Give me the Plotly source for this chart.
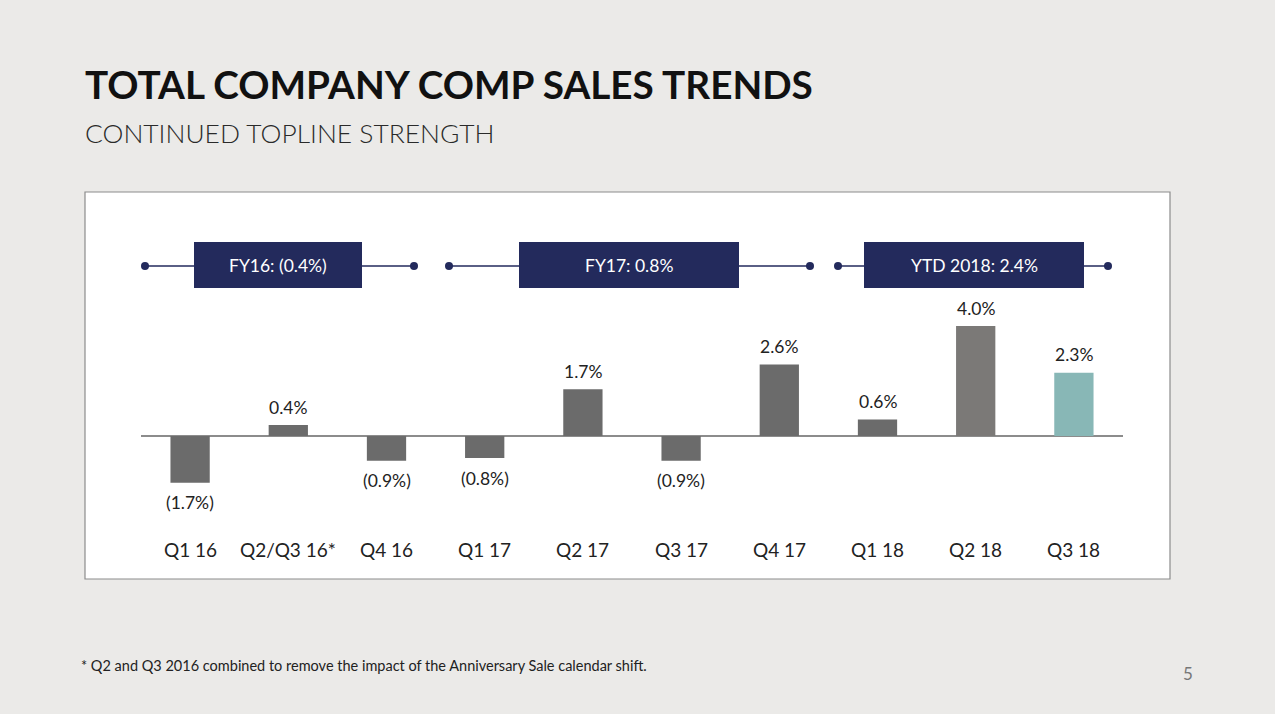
import plotly.graph_objects as go

categories = ["Q1 16", "Q2/Q3 16*", "Q4 16", "Q1 17", "Q2 17", "Q3 17", "Q4 17", "Q1 18", "Q2 18", "Q3 18"]
values = [-1.7, 0.4, -0.9, -0.8, 1.7, -0.9, 2.6, 0.6, 4.0, 2.3]
labels = ["(1.7%)", "0.4%", "(0.9%)", "(0.8%)", "1.7%", "(0.9%)", "2.6%", "0.6%", "4.0%", "2.3%"]
bar_colors = ["#6b6b6b"] * 8 + ["#7b7977", "#88b7b6"]
period_labels = ["FY16: (0.4%)", "FY17: 0.8%", "YTD 2018: 2.4%"]

W, H = 1275, 714
def px(x): return x / W
def py(y): return 1 - y / H

FONT = "Lato"
NAVY = "#232a5c"

fig = go.Figure()
fig.add_trace(go.Bar(x=categories, y=values, marker=dict(color=bar_colors, line=dict(width=0)),
                     width=0.4, hoverinfo="skip"))

shapes = []
shapes.append(dict(type="rect", xref="paper", yref="paper", x0=px(85), x1=px(1170), y0=py(192), y1=py(579),
                   fillcolor="white", line=dict(color="#8c8c8c", width=1.2), layer="below"))
annotations = []
brackets = [(145, 414, 194, 362), (449, 810, 519, 739), (838, 1108, 864, 1084)]
for (l0, l1, b0, b1), txt in zip(brackets, period_labels):
    shapes.append(dict(type="line", xref="paper", yref="paper", x0=px(l0), x1=px(l1), y0=py(266), y1=py(266),
                       line=dict(color=NAVY, width=1.5)))
    for cx in (l0, l1):
        shapes.append(dict(type="circle", xref="paper", yref="paper", x0=px(cx - 4), x1=px(cx + 4),
                           y0=py(270), y1=py(262), fillcolor=NAVY, line=dict(color=NAVY, width=0)))
    shapes.append(dict(type="rect", xref="paper", yref="paper", x0=px(b0), x1=px(b1), y0=py(288), y1=py(242),
                       fillcolor=NAVY, line=dict(width=0)))
    annotations.append(dict(x=px((b0 + b1) / 2), y=py(265), xref="paper", yref="paper", text=txt,
                            xanchor="center", yanchor="middle", showarrow=False,
                            font=dict(family=FONT, size=17.5, color="white")))

for c, v, t in zip(categories, values, labels):
    annotations.append(dict(x=c, y=v, xref="x", yref="y", text=t, showarrow=False,
                            xanchor="center", yanchor="middle",
                            yshift=18 if v >= 0 else -20,
                            font=dict(family=FONT, size=17.5, color="#222222")))
for c in categories:
    annotations.append(dict(x=c, y=py(549), xref="x", yref="paper", text=c, showarrow=False,
                            xanchor="center", yanchor="middle",
                            font=dict(family=FONT, size=19, color="#222222")))

annotations.append(dict(x=px(83), y=py(84), xref="paper", yref="paper", xanchor="left", yanchor="middle",
                        text="<b>TOTAL COMPANY COMP SALES TRENDS</b>", showarrow=False,
                        font=dict(family=FONT, size=38.7, color="#111111")))
annotations.append(dict(x=px(83), y=py(133), xref="paper", yref="paper", xanchor="left", yanchor="middle",
                        text="CONTINUED TOPLINE STRENGTH", showarrow=False,
                        font=dict(family=FONT, size=26.4, color="#2a2a2a", weight=300)))
annotations.append(dict(x=px(79), y=py(665), xref="paper", yref="paper", xanchor="left", yanchor="middle",
                        text="* Q2 and Q3 2016 combined to remove the impact of the Anniversary Sale calendar shift.",
                        showarrow=False, font=dict(family=FONT, size=14.5, color="#222222")))
annotations.append(dict(x=px(1188), y=py(673), xref="paper", yref="paper", xanchor="center", yanchor="middle",
                        text="5", showarrow=False, font=dict(family=FONT, size=17, color="#777777")))

fig.update_layout(
    width=W, height=H, margin=dict(l=0, r=0, t=0, b=0),
    paper_bgcolor="#ebeae8", plot_bgcolor="rgba(0,0,0,0)",
    showlegend=False, shapes=shapes, annotations=annotations,
    xaxis=dict(domain=[px(141), px(1123)], type="category", range=[-0.5, 9.5],
               showticklabels=False, showgrid=False, zeroline=False, showline=False, fixedrange=True),
    yaxis=dict(domain=[py(520), py(300)], range=[-84 / 27.5, 136 / 27.5], showticklabels=False,
               showgrid=False, zeroline=True, zerolinecolor="#8c8c8c", zerolinewidth=1.5, showline=False,
               fixedrange=True),
)
fig.write_html("out.html", config={"displayModeBar": False},
               post_script="document.body.style.margin='0';document.body.style.background='#ebeae8';")
